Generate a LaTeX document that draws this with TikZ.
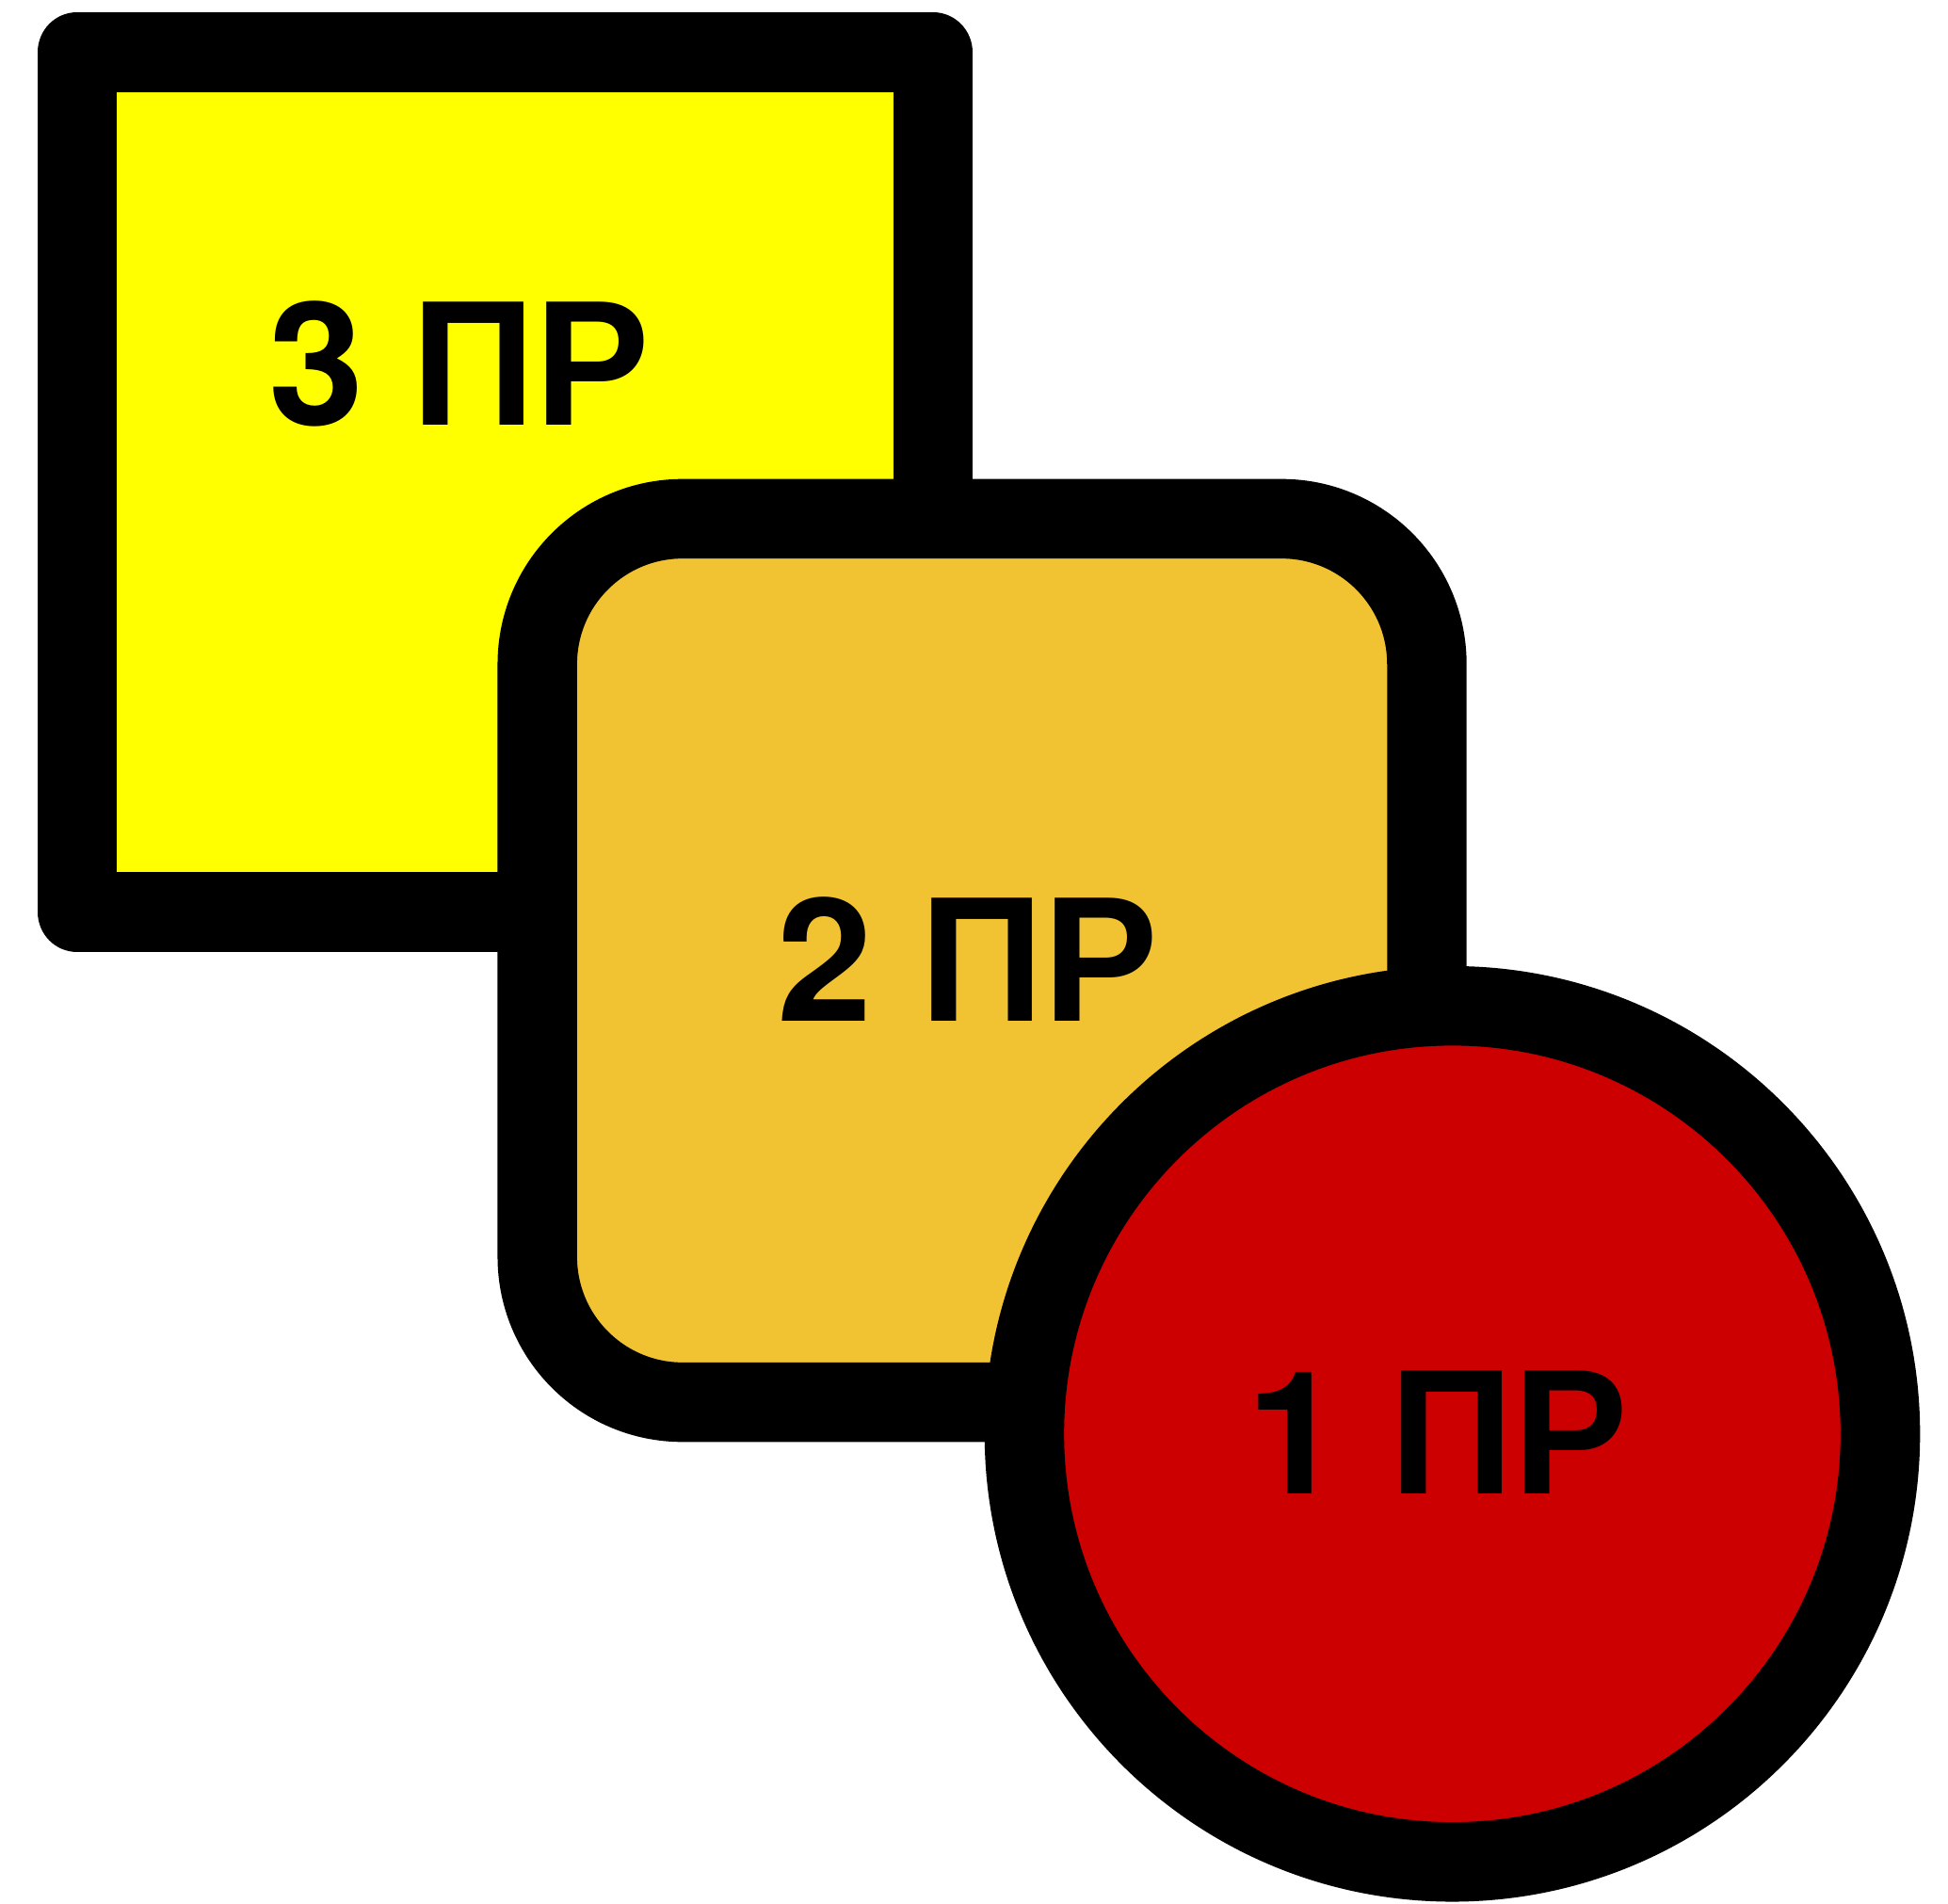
\documentclass[tikz,border=0pt]{standalone}
\usepackage{fontspec}
\setmainfont{TeX Gyre Heros}
\newfontfamily\cyr[FakeStretch=0.96]{Liberation Sans}
\definecolor{signyellow}{HTML}{FFFF00}
\definecolor{signorange}{HTML}{F1C232}
\definecolor{signred}{HTML}{CC0000}
\newcommand{\cyrtxt}[1]{{\cyr\fontsize{72pt}{72pt}\selectfont #1}}
\begin{document}
\begin{tikzpicture}[x=0.5pt,y=-0.5pt,
  frame/.style={draw=black,line width=32pt,line join=round},
  lbl/.style={anchor=base,inner sep=0pt,text=black,font=\bfseries\fontsize{69pt}{69pt}\selectfont}]
\useasboundingbox (0,0) rectangle (1568,1532);
\draw[frame,fill=signyellow] (62,42) rectangle (751,734);
\node[lbl] (t3) at (370,342) {3 \cyrtxt{ПР}};
\draw[frame,fill=signorange,rounded corners=58.5pt] (432.5,417.5) rectangle (1148.5,1128.5);
\node[lbl] (t2) at (779,822) {2 \cyrtxt{ПР}};
\draw[frame,fill=signred] (1169,1154) circle[radius=172.25pt];
\node[lbl] (t1) at (1157,1202) {1 \cyrtxt{ПР}};
\end{tikzpicture}
\end{document}
